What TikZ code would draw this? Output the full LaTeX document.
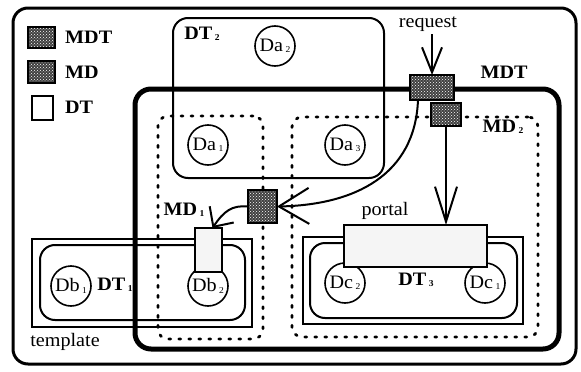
\documentclass[tikz,border=0pt]{standalone}
\usepackage{fontspec}
\setmainfont[FakeStretch=1.06]{Liberation Serif}
\usetikzlibrary{arrows.meta,patterns}
\newcommand{\mysub}[1]{\kern2.5pt\raisebox{-1.5pt}{\fontsize{9}{9}\selectfont #1}}
\begin{document}
\begin{tikzpicture}[x=1pt,y=-1pt,
  every node/.style={font=\fontsize{19}{21}\selectfont},
  box/.style={draw, rectangle, inner sep=0pt, outer sep=0pt},
  mdreg/.style={box, line width=2.8pt, dash pattern=on 2pt off 8pt, line cap=round, rounded corners=10pt},
  hatch/.style={box, line width=1.6pt, preaction={fill=black!75}, pattern=crosshatch dots, pattern color=white},
  dcirc/.style={circle, draw, line width=1.6pt, fill=white, minimum size=40pt, inner sep=0pt},
  portalbox/.style={box, line width=1.6pt, fill=gray!8},
  tmpl/.style={box, line width=1.4pt},
  dtin/.style={box, line width=2pt, rounded corners=15pt},
  lab/.style={inner sep=0pt},
  blab/.style={inner sep=0pt, font=\fontsize{19}{21}\selectfont\bfseries},
  conn/.style={line width=2pt}
]
\useasboundingbox (0,0) rectangle (581,372);
% outer frame
\node[box, line width=3pt, rounded corners=15pt, minimum width=563pt, minimum height=356pt] (outer) at (294.5,186) {};
% legend
\node[hatch, minimum width=27pt, minimum height=21pt] (legmdt) at (41.5,37.5) {};
\node[blab, anchor=west] (legmdtl) at (65,37.5) {MDT};
\node[hatch, minimum width=27pt, minimum height=22pt] (legmd) at (41.5,72) {};
\node[blab, anchor=west] (legmdl) at (65,72) {MD};
\node[box, line width=1.8pt, minimum width=21pt, minimum height=24pt] (legdt) at (42.5,108) {};
\node[blab, anchor=west] (legdtl) at (65,107) {DT};
% DT2
\node[box, line width=2pt, rounded corners=15pt, minimum width=211pt, minimum height=160pt] (dt2) at (278.5,98) {};
\node[blab] (dt2l) at (202,34) {DT\mysub{2}};
% MDT region
\node[box, line width=5pt, rounded corners=16pt, minimum width=424pt, minimum height=260pt] (mdt) at (347,219) {};
\node[blab] (mdtl) at (504,72) {MDT};
% MD regions
\node[mdreg, minimum width=105pt, minimum height=223pt] (md1) at (210.5,227.5) {};
\node[blab] (md1l) at (184,210) {MD\mysub{1}};
\node[mdreg, minimum width=246pt, minimum height=220pt] (md2) at (415,227) {};
\node[blab] (md2l) at (503,127) {MD\mysub{2}};
% DT1 template
\node[tmpl, minimum width=220pt, minimum height=88pt] (tmpl1) at (142,283) {};
\node[dtin, minimum width=205pt, minimum height=75pt] (dt1) at (142.5,282.5) {};
\node[blab] (dt1l) at (115,285) {DT\mysub{1}};
\node[lab] (tmpll) at (65,342) {template};
% DT3
\node[tmpl, minimum width=220pt, minimum height=87pt] (tmpl3) at (413,280.5) {};
\node[dtin, minimum width=207pt, minimum height=75pt] (dt3) at (413.5,280.5) {};
\node[blab] (dt3l) at (416,280) {DT\mysub{3}};
% circles
\node[dcirc] (da2) at (275,46) {Da\mysub{2}};
\node[dcirc] (da1) at (208,145) {Da\mysub{1}};
\node[dcirc] (da3) at (345,145) {Da\mysub{3}};
\node[dcirc] (db1) at (71,286) {Db\mysub{1}};
\node[dcirc] (db2) at (208,286) {Db\mysub{2}};
\node[dcirc] (dc2) at (345,283) {Dc\mysub{2}};
\node[dcirc] (dc1) at (485,283) {Dc\mysub{1}};
% portals
\node[portalbox, minimum width=27pt, minimum height=44pt] (portal1) at (208.5,250) {};
\node[portalbox, minimum width=143pt, minimum height=42pt] (portal3) at (415.5,246) {};
\node[lab] (portall) at (385,211) {portal};
% hatched boxes
\node[hatch, minimum width=44pt, minimum height=25pt] (mdtbox) at (432,87.5) {};
\node[hatch, minimum width=30pt, minimum height=23pt] (md2box) at (446,114.5) {};
\node[hatch, minimum width=29pt, minimum height=33pt] (mdbox) at (262.5,206.5) {};
% request
\node[lab] (reql) at (428,24) {request};
\coordinate (req) at (432,34);
% connectors
\draw[conn, -{Straight Barb[length=25pt,width=20pt]}] (req) -- (mdtbox.north);
\draw[conn, -{Straight Barb[length=35pt,width=22pt]}] (md2box.south) -- (md2box.south |- portal3.north);
\draw[conn, -{Straight Barb[length=30pt,width=36pt]}] ([xshift=-14pt]mdtbox.south) .. controls (415,175) and (355,205) .. (mdbox.east);
\draw[conn, -{Straight Barb[length=15pt,width=29pt]}] (mdbox.west) .. controls (232,205) and (224,211) .. ([xshift=4pt]portal1.north);
\end{tikzpicture}
\end{document}
